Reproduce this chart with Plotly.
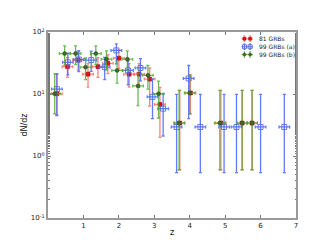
import plotly.graph_objects as go

# 81 GRBs
z_a = [0.25, 0.55, 0.85, 1.13, 1.41, 1.69, 2.0, 2.29, 2.57, 2.87, 3.16, 3.72, 4.02, 4.88, 5.48, 5.76]
y_a = [10.1, 27.6, 35.2, 20.9, 27.6, 31.3, 37.8, 20.9, 20.9, 17.4, 6.8, 3.4, 10.4, 3.4, 3.4, 3.4]
ep_a = [11, 11, 13, 10, 11, 12, 13, 10, 10, 9, 6, 8, 10, 8, 8, 8]
em_a = [5.5, 9, 11, 8, 9, 10, 12, 8, 8, 11, 4.8, 2.8, 5.6, 2.8, 2.8, 2.8]

# 99 GRBs (a)
z_b = [0.25, 0.56, 0.87, 1.22, 1.6, 1.93, 2.26, 2.61, 2.95, 3.25, 3.63, 3.97, 4.3, 4.97, 5.32, 6.0, 6.67]
y_b = [12, 32.4, 36, 35.2, 27.1, 50.5, 24, 26.3, 9.0, 5.8, 2.94, 17.8, 2.94, 2.94, 2.94, 2.94, 2.94]
ep_b = [9, 13, 14, 14, 12, 14, 10, 11, 8.6, 4.2, 6.9, 11, 6.9, 6.9, 6.9, 6.9, 6.9]
em_b = [7.5, 12, 13, 12, 10, 20, 10, 10, 5, 3.7, 2.4, 13.8, 2.4, 2.4, 2.4, 2.4, 2.4]

# 99 GRBs (b)
z_c = [0.19, 0.47, 0.78, 1.06, 1.35, 1.65, 1.95, 2.24, 2.54, 2.82, 3.12, 3.7, 4.0, 4.85, 5.48, 5.76]
y_c = [10.1, 44.9, 44.9, 27.1, 44.9, 36.5, 24, 36.5, 13.5, 20, 10.1, 3.4, 10.4, 3.4, 3.4, 3.4]
ep_c = [11, 15, 15, 11, 15, 13, 10, 13, 8, 9, 6, 8, 10, 8, 8, 8]
em_c = [5.3, 16, 15, 10, 15, 12, 9, 12, 7, 8, 6, 2.8, 5.6, 2.8, 2.8, 2.8]

names = ["81 GRBs", "99 GRBs (a)", "99 GRBs (b)"]
xerr = 0.15

series = [
    (names[0], z_a, y_a, ep_a, em_a, "rgba(255,90,90,0.75)",
     dict(symbol="square", size=4, color="#e01010", line=dict(color="#a00000", width=0.5))),
    (names[1], z_b, y_b, ep_b, em_b, "rgba(70,100,255,0.85)",
     dict(symbol="square-open", size=5, color="rgba(90,110,200,0.9)", line=dict(width=1))),
    (names[2], z_c, y_c, ep_c, em_c, "rgba(70,170,40,0.8)",
     dict(symbol="circle", size=4, color="#3d6b2a", line=dict(color="#2a4d1c", width=0.5))),
]

fig = go.Figure()
for name, zx, yy, ep, em, ecol, mk in series:
    fig.add_trace(go.Scatter(
        x=zx, y=yy, mode="markers", name=name, marker=mk, showlegend=False,
        error_y=dict(type="data", symmetric=False, array=ep, arrayminus=em,
                     color=ecol, thickness=1.3, width=1.5),
        error_x=dict(type="constant", value=xerr, color=ecol, thickness=1.3, width=1.5),
    ))

# compact legend (matplotlib style, two points per entry) on an overlay axis
leg_rows = [0.964, 0.921, 0.879]
leg_pts = [0.792, 0.815]
leg_text_x = 0.842
for (name, zx, yy, ep, em, ecol, mk), ly in zip(series, leg_rows):
    small = dict(mk)
    small["size"] = mk["size"] - 1
    fig.add_trace(go.Scatter(
        x=leg_pts, y=[ly, ly], mode="markers", marker=small, showlegend=False,
        xaxis="x2", yaxis="y2", hoverinfo="skip",
        error_y=dict(type="constant", value=0.015, color=ecol, thickness=1.1, width=0.8),
        error_x=dict(type="constant", value=0.009, color=ecol, thickness=1.1, width=0.8),
    ))
    fig.add_annotation(x=leg_text_x, y=ly, xref="x2", yref="y2", text=name,
                       showarrow=False, xanchor="left", yanchor="middle",
                       font=dict(size=6, color="#222", family="DejaVu Sans"))

axis_common = dict(showline=True, linecolor="#9a9a9a", linewidth=2, mirror="allticks",
                   ticks="inside", tickcolor="#777", ticklen=3, showgrid=False,
                   zeroline=False, tickfont=dict(size=7, color="#222", family="DejaVu Sans"))

fig.update_layout(
    xaxis=dict(range=[0, 7], tickvals=[1, 2, 3, 4, 5, 6, 7],
               title=dict(text="z", font=dict(size=8, color="#111"), standoff=0),
               **axis_common),
    yaxis=dict(type="log", range=[-1, 2], tickvals=[0.1, 1, 10, 100],
               ticktext=["10<sup>-1</sup>", "10<sup>0</sup>", "10<sup>1</sup>", "10<sup>2</sup>"],
               minor=dict(ticks="inside", ticklen=1.5, tickcolor="#777", showgrid=False),
               title=dict(text="dN/dz", font=dict(size=8, color="#111"), standoff=2),
               **axis_common),
    xaxis2=dict(range=[0, 1], overlaying="x", visible=False, fixedrange=True),
    yaxis2=dict(range=[0, 1], overlaying="y", visible=False, fixedrange=True),
    width=320, height=240,
    margin=dict(l=40, r=32, t=24, b=24),
    paper_bgcolor="white", plot_bgcolor="white",
    showlegend=False,
    font=dict(family="DejaVu Sans"),
)

fig.write_html("out.html")
